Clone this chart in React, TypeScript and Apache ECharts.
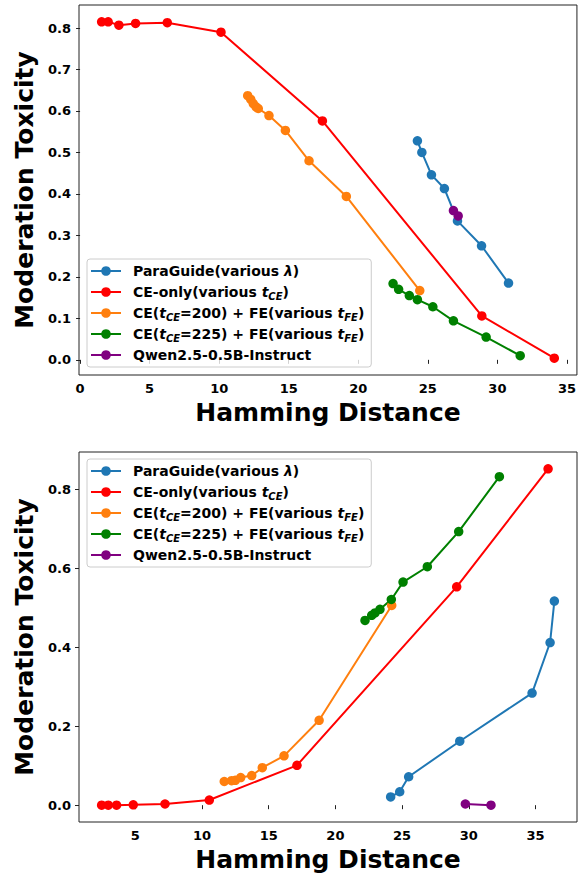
import React, { useEffect, useRef } from "react";
import * as echarts from "echarts";

// ---------- data (top panel) ----------
const topBlueX = [24.25, 24.57, 25.26, 26.19, 27.13, 28.86, 30.8];
const topBlueY = [0.528, 0.5, 0.446, 0.413, 0.335, 0.275, 0.185];
const topRedX = [1.55, 2.02, 2.79, 3.99, 6.27, 10.13, 17.42, 28.88, 34.09];
const topRedY = [0.815, 0.815, 0.807, 0.811, 0.813, 0.79, 0.576, 0.106, 0.004];
const topOrangeX = [12.05, 12.27, 12.45, 12.65, 12.81, 13.58, 14.76, 16.46, 19.14, 24.42];
const topOrangeY = [0.637, 0.628, 0.618, 0.61, 0.606, 0.589, 0.553, 0.48, 0.394, 0.167];
const topGreenX = [22.5, 22.9, 23.67, 24.25, 25.36, 26.84, 29.19, 31.64];
const topGreenY = [0.184, 0.17, 0.155, 0.145, 0.128, 0.094, 0.055, 0.01];
const topPurpleX = [26.84, 27.18];
const topPurpleY = [0.36, 0.347];

// ---------- data (bottom panel) ----------
const botBlueX = [24.14, 24.82, 25.49, 29.32, 34.74, 36.09, 36.41];
const botBlueY = [0.021, 0.034, 0.072, 0.162, 0.284, 0.412, 0.517];
const botRedX = [2.48, 2.98, 3.6, 4.85, 7.23, 10.55, 17.12, 29.09, 35.94];
const botRedY = [0.0, 0.0, 0.0, 0.001, 0.003, 0.013, 0.101, 0.553, 0.852];
const botOrangeX = [11.67, 12.22, 12.5, 12.9, 13.73, 14.52, 16.15, 18.78, 24.22];
const botOrangeY = [0.06, 0.062, 0.063, 0.07, 0.075, 0.095, 0.125, 0.215, 0.506];
const botGreenX = [22.22, 22.72, 22.97, 23.34, 24.19, 25.07, 26.89, 29.24, 32.29];
const botGreenY = [0.468, 0.481, 0.487, 0.496, 0.521, 0.565, 0.604, 0.693, 0.832];
const botPurpleX = [29.74, 31.66];
const botPurpleY = [0.003, 0.0];

// ---------- ticks ----------
const topXTicks = [0, 5, 10, 15, 20, 25, 30, 35];
const topYTicks = [0, 0.1, 0.2, 0.3, 0.4, 0.5, 0.6, 0.7, 0.8];
const botXTicks = [5, 10, 15, 20, 25, 30, 35];
const botYTicks = [0, 0.2, 0.4, 0.6, 0.8];

// ---------- series names ----------
const seriesNames = [
  "ParaGuide(various λ)",
  "CE-only(various tCE)",
  "CE(tCE=200) + FE(various tFE)",
  "CE(tCE=225) + FE(various tFE)",
  "Qwen2.5-0.5B-Instruct",
];
const legendRich: Record<string, string> = {
  "ParaGuide(various λ)": "ParaGuide(various {i|λ})",
  "CE-only(various tCE)": "CE-only(various {i|t}{sub|CE})",
  "CE(tCE=200) + FE(various tFE)": "CE({i|t}{sub|CE}=200) + FE(various {i|t}{sub|FE})",
  "CE(tCE=225) + FE(various tFE)": "CE({i|t}{sub|CE}=225) + FE(various {i|t}{sub|FE})",
  "Qwen2.5-0.5B-Instruct": "Qwen2.5-0.5B-Instruct",
};
const colors = ["#1f77b4", "#ff0000", "#ff7f0e", "#008000", "#800080"];

const FONT = "DejaVu Sans";

const zip = (xs: number[], ys: number[]) => xs.map((x, i) => [x, ys[i]]);

const padMin = (v: { min: number; max: number }) => v.min - 0.05 * (v.max - v.min);
const padMax = (v: { min: number; max: number }) => v.max + 0.05 * (v.max - v.min);

function xAxisCfg(gridIndex: number, ticks: number[]) {
  return {
    type: "value",
    gridIndex,
    min: padMin,
    max: padMax,
    splitLine: { show: false },
    axisLine: { show: false },
    axisTick: {
      show: true,
      length: 4,
      lineStyle: { color: "#222", width: 1 },
      customValues: ticks,
    },
    axisLabel: {
      customValues: ticks,
      formatter: (v: number) => String(v),
      fontSize: 13,
      fontWeight: "bold",
      fontFamily: FONT,
      color: "#000",
      margin: 7,
    },
    name: "Hamming Distance",
    nameLocation: "middle",
    nameGap: 25,
    nameTextStyle: { fontSize: 25, fontWeight: "bold", fontFamily: FONT, color: "#000" },
  };
}

function yAxisCfg(gridIndex: number, ticks: number[]) {
  return {
    type: "value",
    gridIndex,
    min: padMin,
    max: padMax,
    splitLine: { show: false },
    axisLine: { show: false },
    axisTick: {
      show: true,
      length: 4,
      lineStyle: { color: "#222", width: 1 },
      customValues: ticks,
    },
    axisLabel: {
      customValues: ticks,
      formatter: (v: number) => v.toFixed(1),
      fontSize: 13,
      fontWeight: "bold",
      fontFamily: FONT,
      color: "#000",
      margin: 8,
    },
    name: "Moderation Toxicity",
    nameLocation: "middle",
    nameRotate: 90,
    nameGap: 33,
    nameTextStyle: { fontSize: 25, fontWeight: "bold", fontFamily: FONT, color: "#000" },
  };
}

function legendCfg(top: number) {
  return {
    orient: "vertical",
    left: 87,
    top,
    itemWidth: 30,
    itemHeight: 12,
    itemGap: 3,
    padding: [3, 7, 3, 3],
    backgroundColor: "rgba(255,255,255,0.8)",
    borderColor: "#cccccc",
    borderWidth: 1,
    borderRadius: 3,
    data: seriesNames,
    formatter: (name: string) => legendRich[name] || name,
    textStyle: {
      fontSize: 14,
      fontWeight: "bold",
      fontFamily: FONT,
      color: "#000",
      lineHeight: 18,
      padding: [0, 0, 0, 7],
      rich: {
        i: { fontSize: 14, fontWeight: "bold", fontStyle: "italic", fontFamily: FONT, color: "#000", lineHeight: 18 },
        sub: {
          fontSize: 10,
          fontWeight: "bold",
          fontStyle: "italic",
          fontFamily: FONT,
          color: "#000",
          lineHeight: 9,
          verticalAlign: "bottom",
        },
      },
    },
  };
}

function lineSeries(name: string, color: string, xi: number, data: number[][]) {
  return {
    name,
    type: "line",
    xAxisIndex: xi,
    yAxisIndex: xi,
    data,
    symbol: "circle",
    symbolSize: 9.5,
    showSymbol: true,
    color,
    itemStyle: { color },
    lineStyle: { color, width: 2 },
  };
}

export default function App() {
  const ref = useRef<HTMLDivElement>(null);
  useEffect(() => {
    if (!ref.current) return;
    const chart = echarts.init(ref.current, undefined, { renderer: "svg" });
    const topData = [
      zip(topBlueX, topBlueY),
      zip(topRedX, topRedY),
      zip(topOrangeX, topOrangeY),
      zip(topGreenX, topGreenY),
      zip(topPurpleX, topPurpleY),
    ];
    const botData = [
      zip(botBlueX, botBlueY),
      zip(botRedX, botRedY),
      zip(botOrangeX, botOrangeY),
      zip(botGreenX, botGreenY),
      zip(botPurpleX, botPurpleY),
    ];
    const series: any[] = [];
    seriesNames.forEach((n, i) => series.push(lineSeries(n, colors[i], 0, topData[i])));
    seriesNames.forEach((n, i) => series.push(lineSeries(n, colors[i], 1, botData[i])));
    const option: any = {
      animation: false,
      backgroundColor: "#ffffff",
      grid: [
        { left: 79, top: 5, width: 498, height: 370, show: true, borderColor: "#222", borderWidth: 1, backgroundColor: "transparent" },
        { left: 79, top: 452, width: 498, height: 370, show: true, borderColor: "#222", borderWidth: 1, backgroundColor: "transparent" },
      ],
      xAxis: [xAxisCfg(0, topXTicks), xAxisCfg(1, botXTicks)],
      yAxis: [yAxisCfg(0, topYTicks), yAxisCfg(1, botYTicks)],
      legend: [legendCfg(259), legendCfg(459)],
      series,
    };
    chart.setOption(option);
    return () => chart.dispose();
  }, []);
  return (
    <div
      ref={ref}
      style={{ position: "absolute", left: 0, top: 0, width: 579, height: 877, background: "#fff" }}
    />
  );
}
